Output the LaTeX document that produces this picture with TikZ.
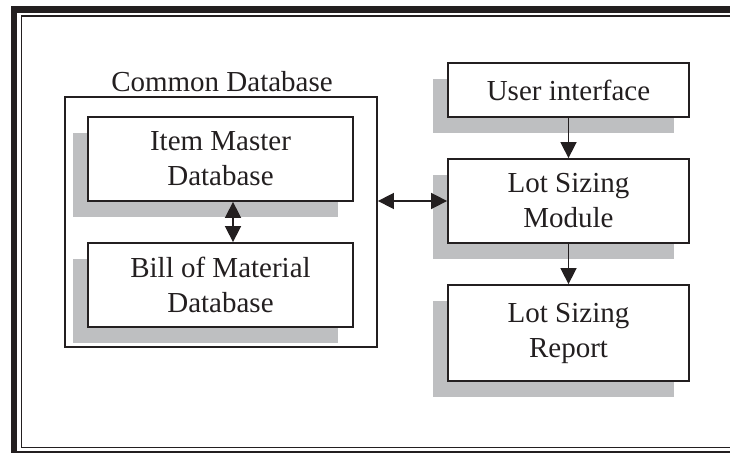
\documentclass[tikz,border=0pt]{standalone}
\usepackage{fontspec}
\setmainfont{Liberation Serif}
\usetikzlibrary{arrows.meta,shadows}

\definecolor{ink}{HTML}{231F20}
\definecolor{shade}{HTML}{BEBFC1}

\tikzset{
  every node/.style={font=\fontsize{29}{35}\selectfont, text=ink},
  box/.style={draw=ink, line width=1.8pt, fill=white, align=center,
    inner sep=0pt, minimum width=241pt,
    general shadow={shadow xshift=-15pt, shadow yshift=-16pt, fill=shade, draw=none}},
  dbbox/.style={box, minimum width=265pt, minimum height=84pt},
  tip/.style={Triangle[length=16pt,width=16pt]},
  link/.style={draw=ink, line width=1.6pt, -{Triangle[length=16pt,width=16pt]}},
  dlink/.style={link, {Triangle[length=16pt,width=16pt]}-{Triangle[length=16pt,width=16pt]}},
  frame/.style={draw=ink, line width=1.6pt}
}

\begin{document}
\begin{tikzpicture}[x=1pt, y=-1pt]
  \useasboundingbox (0,0) rectangle (730,454);
  \begin{scope}
    \clip (0,0) rectangle (730,454);
    % page frame: heavy rule on top and left, thin inner rule
    \fill[ink] (11,6) rectangle (17,453);
    \fill[ink] (11,6) rectangle (731,13);
    \draw[frame] (11,452) -- (731,452);
    \draw[frame] (731,16) -- (21.5,16) -- (21.5,447.5) -- (731,447.5);
  \end{scope}

  % common database group
  \node[anchor=base] (cdbtitle) at (222,92) {Common Database};
  \node[draw=ink, line width=1.8pt, minimum width=312pt, minimum height=250pt,
        inner sep=0pt] (cdb) at (221,222) {};
  \node[dbbox] (item) at (220.5,159) {Item Master\\Database};
  \node[dbbox] (bill) at (220.5,285) {Bill of Material\\Database};

  % lot sizing column
  \node[box, minimum height=54pt] (ui) at (568.5,90) {User interface};
  \node[box, minimum height=84pt] (lsm) at (568.5,201) {Lot Sizing\\Module};
  \node[box, minimum height=96pt] (lsr) at (568.5,333) {Lot Sizing\\Report};

  % connectors
  \draw[dlink] ([xshift=12.5pt]item.south) -- ([xshift=12.5pt]bill.north);
  \draw[dlink] (cdb.east |- lsm.west) -- (lsm.west);
  \draw[link] (ui) -- (lsm);
  \draw[link] (lsm) -- (lsr);
\end{tikzpicture}
\end{document}
